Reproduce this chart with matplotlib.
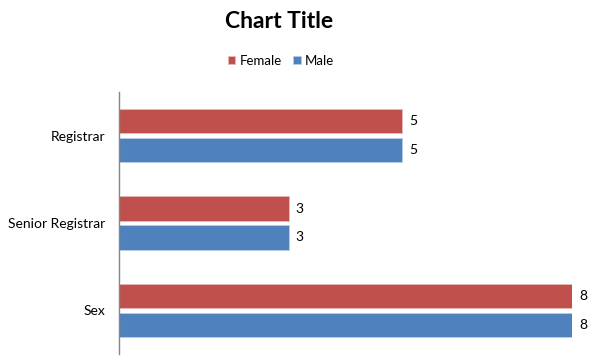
import matplotlib.pyplot as plt
import numpy as np

# Chart data
categories = ["Registrar", "Senior Registrar", "Sex"]
female = [5, 3, 8]
male = [5, 3, 8]

plt.rcParams['font.family'] = ['Lato', 'DejaVu Sans']

fig = plt.figure(figsize=(5.96, 3.62), dpi=100)
ax = fig.add_axes([119 / 596, 1 - 354 / 362, (572 - 119) / 596, (354 - 92) / 362])

y = np.arange(len(categories))
h = 0.28
off = 0.166

red = '#C0504D'
blue = '#4F81BD'

bf = ax.barh(y - off, female, height=h, color=red, edgecolor='#E6B9B8', linewidth=0.6, label='Female')
bm = ax.barh(y + off, male, height=h, color=blue, edgecolor='#B9CDE5', linewidth=0.6, label='Male')

for bars in (bf, bm):
    ax.bar_label(bars, padding=5, fontsize=10, color='#000000', clip_on=False)

ax.set_xlim(0, 8)
ax.set_ylim(len(categories) - 0.5, -0.5)
ax.set_yticks(y)
ax.set_yticklabels(categories, fontsize=10)
ax.tick_params(axis='y', length=0, pad=10)
ax.set_xticks([])

for s in ['top', 'right', 'bottom']:
    ax.spines[s].set_visible(False)
ax.spines['left'].set_color('#868686')
ax.spines['left'].set_linewidth(1.0)

fig.text(279 / 596, 1 - 22 / 362, "Chart Title", ha='center', va='center',
         fontsize=16.5, fontweight='bold')

fig.legend(handles=[bf, bm], loc='center', bbox_to_anchor=(281 / 596, 1 - 61 / 362),
           ncol=2, frameon=False, fontsize=9.5, handlelength=0.55, handleheight=0.55,
           handletextpad=0.3, columnspacing=0.9)

fig.savefig('out.png', dpi=100)
